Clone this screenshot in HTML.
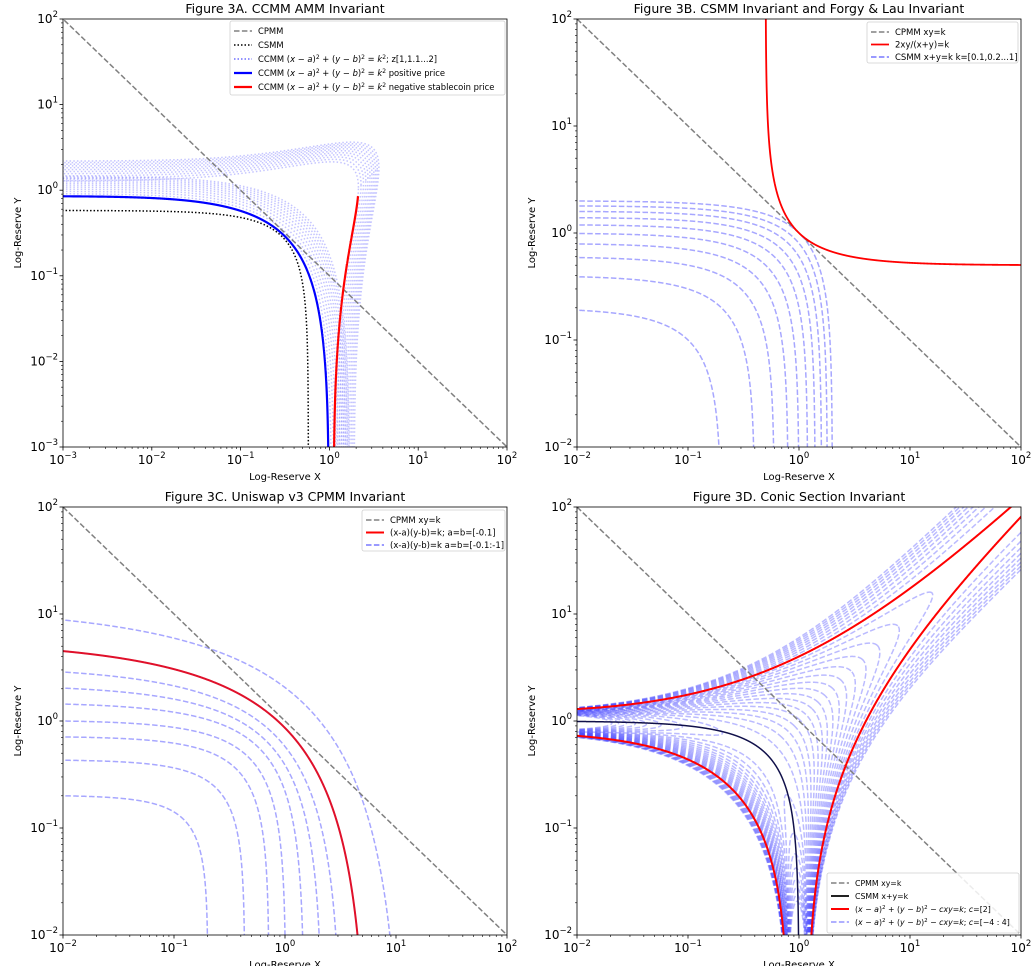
<!DOCTYPE html>
<html><head><meta charset="utf-8">
<style>
html,body{margin:0;padding:0;background:#fff;}
svg{display:block;font-family:"DejaVu Sans","Liberation Sans",sans-serif;}
</style></head>
<body>
<svg id="fig" width="1032" height="966" viewBox="0 0 1032 966" xmlns="http://www.w3.org/2000/svg"></svg>
<script>
// ---------- data ----------
const cpmmA_k = [0.1];
const csmmA_k = [0.58];
const circleA_center = [1.05, 1.07];
const circleA_radius = [1.072];
const ccmmA_z = [1, 1.1, 1.2, 1.3, 1.4, 1.5, 1.6, 1.7, 1.8, 1.9, 2];
const ccmmA_zSpread = [0.7];
const redA_stopY = [0.85];

const cpmmB_k = [1];
const harmonicB_k = [1];
const csmmB_sums = [0.2, 0.4, 0.6, 0.8, 1.0, 1.2, 1.4, 1.6, 1.8, 2.0];

const cpmmC_k = [1];
const v3C_intercepts = [0.2, 0.43, 0.71, 1.0, 1.44, 2.03, 2.87, 4.5, 8.8];
const v3C_power = [1.35, 1.15, 1.0, 0.88, 0.72, 0.58, 0.48, 0.38, 0.33];
const v3C_red = [4.5];
const v3C_redPower = [0.38];

const cpmmD_k = [1];
const csmmD_k = [1];
const conicD_ab = [1];
const conicD_k = [1.04];
const conicD_c = [-4,-3.75,-3.5,-3.25,-3,-2.75,-2.5,-2.25,-2,-1.75,-1.5,-1.25,-1,-0.75,-0.5,-0.25,0,0.25,0.5,0.75,1,1.25,1.5,1.75,2,2.25,2.5,2.75,3,3.25,3.5,3.75,4];
const conicD_red = [2];

const xTicksA = [-3,-2,-1,0,1,2];
const xTicksB = [-2,-1,0,1,2];

// ---------- helpers ----------
const NS = "http://www.w3.org/2000/svg";
const svg = document.getElementById('fig');
function mk(tag, attrs, parent, name, inter) {
  const e = document.createElementNS(NS, tag);
  for (const k in attrs) e.setAttribute(k, attrs[k]);
  
  
  (parent || svg).appendChild(e);
  return e;
}
function sup(s){return String(s).replace('-', '\u2212');}

const panels = {
  A:{X0:63,X1:507,Y0:19,Y1:447,xmin:-3,xmax:2,ymin:-3,ymax:2,xt:xTicksA,yt:xTicksA,title:"Figure 3A. CCMM AMM Invariant"},
  B:{X0:577,X1:1021,Y0:19,Y1:447,xmin:-2,xmax:2,ymin:-2,ymax:2,xt:xTicksB,yt:xTicksB,title:"Figure 3B. CSMM Invariant and Forgy & Lau Invariant"},
  C:{X0:63,X1:507,Y0:507,Y1:935,xmin:-2,xmax:2,ymin:-2,ymax:2,xt:xTicksB,yt:xTicksB,title:"Figure 3C. Uniswap v3 CPMM Invariant"},
  D:{X0:577,X1:1021,Y0:507,Y1:935,xmin:-2,xmax:2,ymin:-2,ymax:2,xt:xTicksB,yt:xTicksB,title:"Figure 3D. Conic Section Invariant"}
};
function px(P, x){return P.X0 + (Math.log10(x)-P.xmin)/(P.xmax-P.xmin)*(P.X1-P.X0);}
function py(P, y){return P.Y1 - (Math.log10(y)-P.ymin)/(P.ymax-P.ymin)*(P.Y1-P.Y0);}

function setupPanel(key){
  const P = panels[key];
  const g = mk('g', {}, svg, 'panel-'+key.toLowerCase(), false);
  const clip = mk('clipPath', {id:'clip'+key}, g, 'clip-'+key.toLowerCase(), false);
  mk('rect', {x:P.X0, y:P.Y0, width:P.X1-P.X0, height:P.Y1-P.Y0}, clip, 'clip-rect', false);
  P.g = g;
  P.plot = mk('g', {'clip-path':'url(#clip'+key+')'}, g, 'plot-area-'+key.toLowerCase(), false);
  const t = mk('text', {x:(P.X0+P.X1)/2, y:P.Y0-6, 'text-anchor':'middle','font-size':12.5,fill:'#000'}, g, 'chart-title-'+key.toLowerCase(), false);
  t.textContent = P.title;
  const tg = mk('g', {stroke:'#000','stroke-width':0.8}, g, 'ticks-'+key.toLowerCase(), false);
  for (let d = P.xmin; d <= P.xmax; d++) {
    const x = P.X0 + (d-P.xmin)/(P.xmax-P.xmin)*(P.X1-P.X0);
    mk('line', {x1:x,x2:x,y1:P.Y1,y2:P.Y1+3.5}, tg, 'x-major-tick', false);
    const y = P.Y1 - (d-P.ymin)/(P.ymax-P.ymin)*(P.Y1-P.Y0);
    mk('line', {x1:P.X0,x2:P.X0-3.5,y1:y,y2:y}, tg, 'y-major-tick', false);
    if (d < P.xmax) for (let m=2;m<10;m++){
      const xm = P.X0 + (d+Math.log10(m)-P.xmin)/(P.xmax-P.xmin)*(P.X1-P.X0);
      mk('line', {x1:xm,x2:xm,y1:P.Y1,y2:P.Y1+2,'stroke-width':0.6}, tg, 'x-minor-tick', false);
      const ym = P.Y1 - (d+Math.log10(m)-P.ymin)/(P.ymax-P.ymin)*(P.Y1-P.Y0);
      mk('line', {x1:P.X0,x2:P.X0-2,y1:ym,y2:ym,'stroke-width':0.6}, tg, 'y-minor-tick', false);
    }
  }
  P.xt.forEach(d=>{
    const x = P.X0 + (d-P.xmin)/(P.xmax-P.xmin)*(P.X1-P.X0);
    const tx = mk('text', {x:x, y:P.Y1+17, 'text-anchor':'middle','font-size':12}, g, 'x-tick-label', false);
    tx.innerHTML = '10<tspan dy="-6" font-size="8.5">'+sup(d)+'</tspan>';
  });
  P.yt.forEach(d=>{
    const y = P.Y1 - (d-P.ymin)/(P.ymax-P.ymin)*(P.Y1-P.Y0);
    const ty = mk('text', {x:P.X0-5, y:y+4, 'text-anchor':'end','font-size':12}, g, 'y-tick-label', false);
    ty.innerHTML = '10<tspan dy="-6" font-size="8.5">'+sup(d)+'</tspan>';
  });
  const xl = mk('text', {x:(P.X0+P.X1)/2, y:P.Y1+33, 'text-anchor':'middle','font-size':10}, g, 'x-axis-title', false);
  xl.textContent = 'Log-Reserve X';
  const yc = (P.Y0+P.Y1)/2, xx = P.X0-42;
  const yl = mk('text', {x:xx, y:yc, 'text-anchor':'middle','font-size':10, transform:'rotate(-90 '+xx+' '+yc+')'}, g, 'y-axis-title', false);
  yl.textContent = 'Log-Reserve Y';
  return P;
}

function drawParam(P, fn, t0, t1, n, style, name){
  const lx0=P.xmin-0.05, lx1=P.xmax+0.05, ly0=P.ymin-0.05, ly1=P.ymax+0.05;
  function g(t){
    const p = fn(t); if(!p) return -1;
    const [x,y]=p; if(!(x>0)||!(y>0)||!isFinite(x)||!isFinite(y)) return -1;
    const lx=Math.log10(x), ly=Math.log10(y);
    return Math.min(lx-lx0, lx1-lx, ly-ly0, ly1-ly);
  }
  function bis(ta, tb){
    for(let i=0;i<40;i++){const tm=(ta+tb)/2; if(g(tm)>=0) ta=tm; else tb=tm;}
    return ta;
  }
  const segs=[]; let cur=null; let prevT=t0, prevV=false;
  for(let i=0;i<=n;i++){
    const t = t0+(t1-t0)*i/n;
    const v = g(t)>=0;
    if(v){
      if(!prevV){cur=[]; segs.push(cur); if(i>0) cur.push(fn(bis(t,prevT)));}
      cur.push(fn(t));
    } else if(prevV){
      cur.push(fn(bis(prevT,t))); cur=null;
    }
    prevV=v; prevT=t;
  }
  let d='';
  segs.forEach(s=>{ if(s.length<2) return; d+='M'+s.map(p=>px(P,p[0]).toFixed(2)+','+py(P,p[1]).toFixed(2)).join('L'); });
  const a = Object.assign({d:d, fill:'none'}, style);
  return mk('path', a, P.plot, name, false);
}
function frame(P){
  mk('rect', {x:P.X0,y:P.Y0,width:P.X1-P.X0,height:P.Y1-P.Y0,fill:'none',stroke:'#000','stroke-width':0.8}, P.g, 'axes-frame', false);
}
const gray = {stroke:'#808080','stroke-width':1.5,'stroke-dasharray':'5.5,2.4'};
const blueDash = {stroke:'rgb(60,60,255)','stroke-opacity':0.45,'stroke-width':1.5,'stroke-dasharray':'5.5,2.4'};

// ---------- Panel A ----------
(function(){
  const P = setupPanel('A');
  const [a0,b0] = circleA_center, r0 = circleA_radius[0];
  ccmmA_z.forEach(z=>{
    const f = 1 + ccmmA_zSpread[0]*(z-1);
    const a=a0*f,b=b0*f,r=r0*f;
    drawParam(P, t=>[a+r*Math.cos(t), b+r*Math.sin(t)], 0, 2*Math.PI, 3000,
      {stroke:'rgb(90,90,255)','stroke-opacity':0.35,'stroke-width':1.5,'stroke-dasharray':'1.5,2.2'}, 'ccmm-dotted-curve');
  });
  drawParam(P, t=>{const x=Math.pow(10,t); return [x, cpmmA_k[0]/x];}, -3.2, 2.2, 400, gray, 'cpmm-line');
  drawParam(P, t=>{const x=Math.pow(10,t); return [x, csmmA_k[0]-x];}, -3.2, 0.5, 3000,
    {stroke:'#000','stroke-width':1.5,'stroke-dasharray':'1.5,2'}, 'csmm-line');
  drawParam(P, t=>[a0+r0*Math.cos(t), b0+r0*Math.sin(t)], Math.PI, 1.5*Math.PI, 3000,
    {stroke:'#0000ff','stroke-width':2.2}, 'ccmm-positive-price');
  const tEnd = 2*Math.PI + Math.asin((redA_stopY[0]-b0)/r0);
  drawParam(P, t=>[a0+r0*Math.cos(t), b0+r0*Math.sin(t)], 1.5*Math.PI, tEnd, 3000,
    {stroke:'#ff0000','stroke-width':2.2}, 'ccmm-negative-price');
  frame(P);
})();

// ---------- Panel B ----------
(function(){
  const P = setupPanel('B');
  csmmB_sums.forEach(s=>{
    drawParam(P, t=>{const x=Math.pow(10,t); return [x, s-x];}, -2.2, 0.5, 3000, blueDash, 'csmm-dashed-line');
  });
  drawParam(P, t=>{const x=Math.pow(10,t); return [x, cpmmB_k[0]/x];}, -2.2, 2.2, 400, gray, 'cpmm-line');
  const k=harmonicB_k[0];
  drawParam(P, t=>{const x=Math.pow(10,t); return [x, k*x/(2*x-k)];}, -2.2, 2.2, 4000,
    {stroke:'#ff0000','stroke-width':1.8}, 'harmonic-mean-curve');
  frame(P);
})();

// ---------- Panel C ----------
(function(){
  const P = setupPanel('C');
  const edge = 0.01;
  function scaleFor(L, p){
    let lo=L, hi=L*100;
    for(let i=0;i<80;i++){
      const s=(lo+hi)/2;
      const v = s*Math.pow(1-Math.pow(edge/s,p),1/p);
      if(v<L) lo=s; else hi=s;
    }
    return (lo+hi)/2;
  }
  const curve = (L,p) => { const s=scaleFor(L,p);
    return t=>{const x=Math.pow(10,t); const q=1-Math.pow(x/s,p); return q>0?[x, s*Math.pow(q,1/p)]:null;}; };
  v3C_intercepts.forEach((L,i)=>{ drawParam(P, curve(L, v3C_power[i]), -2.2, 2.2, 3000, blueDash, 'v3-dashed-curve'); });
  drawParam(P, t=>{const x=Math.pow(10,t); return [x, cpmmC_k[0]/x];}, -2.2, 2.2, 400, gray, 'cpmm-line');
  drawParam(P, curve(v3C_red[0], v3C_redPower[0]), -2.2, 2.2, 3000, {stroke:'#e0102a','stroke-width':2}, 'v3-red-curve');
  frame(P);
})();

// ---------- Panel D ----------
function conicParts(c){
  const a=conicD_ab[0], k=conicD_k[0], s2=Math.SQRT2;
  const A=1-c/2, B=1+c/2;
  const xy=(u,v)=>[(u-v)/s2,(u+v)/s2];
  const parts=[];
  if(Math.abs(A)<1e-9){
    parts.push({fn:s=>{const v=Math.sinh(s); return xy((B*v*v+2*a*a-k)/(2*s2*a), v);}, t0:-7, t1:7});
    return parts;
  }
  const u0=s2*a/A, R=2*a*a/A-2*a*a+k;
  if(Math.abs(B)<1e-9){
    if(R/A>0){const d=Math.sqrt(R/A);
      [1,-1].forEach(sg=>parts.push({fn:s=>xy(u0+sg*d, Math.sinh(s)), t0:-7, t1:7}));}
    return parts;
  }
  const p=R/A, q=R/B;
  if(p>0&&q>0){
    parts.push({fn:t=>xy(u0+Math.sqrt(p)*Math.cos(t), Math.sqrt(q)*Math.sin(t)), t0:0, t1:2*Math.PI});
  } else if(p>0){
    [1,-1].forEach(sg=>parts.push({fn:s=>xy(u0+sg*Math.sqrt(p)*Math.cosh(s), Math.sqrt(-q)*Math.sinh(s)), t0:-10, t1:10}));
  } else if(q>0){
    [1,-1].forEach(sg=>parts.push({fn:s=>xy(u0+Math.sqrt(-p)*Math.sinh(s), sg*Math.sqrt(q)*Math.cosh(s)), t0:-10, t1:10}));
  }
  return parts;
}
(function(){
  const P = setupPanel('D');
  conicD_c.forEach(c=>{
    conicParts(c).forEach(pt=>drawParam(P, pt.fn, pt.t0, pt.t1, 3000,
      {stroke:'rgb(60,60,255)','stroke-opacity':0.35,'stroke-width':1.5,'stroke-dasharray':'5.5,2.4'}, 'conic-dashed-curve'));
  });
  drawParam(P, t=>{const x=Math.pow(10,t); return [x, cpmmD_k[0]/x];}, -2.2, 2.2, 400, gray, 'cpmm-line');
  drawParam(P, t=>{const x=Math.pow(10,t); return [x, csmmD_k[0]-x];}, -2.2, 0.3, 3000,
    {stroke:'#10104a','stroke-width':1.5}, 'csmm-line');
  conicD_red.forEach(c=>{
    conicParts(c).forEach(pt=>drawParam(P, pt.fn, pt.t0, pt.t1, 4000,
      {stroke:'#ff0000','stroke-width':2}, 'conic-red-curve'));
  });
  frame(P);
})();

// ---------- legends ----------
function legend(x,y,w,h,rows,name,fs){
  const g = mk('g', {}, svg, name, false);
  mk('rect', {x:x,y:y,width:w,height:h,rx:2,fill:'#fff','fill-opacity':0.85,stroke:'#d0d0d0','stroke-width':0.8}, g, 'legend-box', false);
  rows.forEach((r,i)=>{
    const yy = y + 10 + i*r.dy;
    mk('line', Object.assign({x1:x+4,x2:x+22,y1:yy,y2:yy}, r.style), g, 'legend-line', false);
    const t = mk('text', {x:x+28, y:yy+3, 'font-size':fs, fill:'#000'}, g, 'legend-entry', false);
    t.innerHTML = r.html;
  });
}
const eqA = 'CCMM (<tspan font-style="italic">x</tspan> − <tspan font-style="italic">a</tspan>)<tspan dy="-3" font-size="6">2</tspan><tspan dy="3"> + (</tspan><tspan font-style="italic">y</tspan> − <tspan font-style="italic">b</tspan>)<tspan dy="-3" font-size="6">2</tspan><tspan dy="3"> = </tspan><tspan font-style="italic">k</tspan><tspan dy="-3" font-size="6">2</tspan><tspan dy="3">';
legend(230,21,275,74,[
  {dy:14, style:gray, html:'CPMM'},
  {dy:14, style:{stroke:'#000','stroke-width':1.5,'stroke-dasharray':'1.5,2'}, html:'CSMM'},
  {dy:14, style:{stroke:'rgb(110,110,255)','stroke-width':1.5,'stroke-dasharray':'1.5,2'}, html:eqA+'; z[1,1.1...2]</tspan>'},
  {dy:14, style:{stroke:'#0000ff','stroke-width':2.2}, html:eqA+' positive price</tspan>'},
  {dy:14, style:{stroke:'#ff0000','stroke-width':2.2}, html:eqA+' negative stablecoin price</tspan>'}
],'legend-a',8.4);
legend(867,22,151,41,[
  {dy:12.5, style:gray, html:'CPMM xy=k'},
  {dy:12.5, style:{stroke:'#ff0000','stroke-width':1.8}, html:'2xy/(x+y)=k'},
  {dy:12.5, style:{stroke:'rgb(120,120,255)','stroke-width':1.5,'stroke-dasharray':'5.5,2.4'}, html:'CSMM x+y=k k=[0.1,0.2...1]'}
],'legend-b',8.5);
legend(362,510,143,41,[
  {dy:12.5, style:gray, html:'CPMM xy=k'},
  {dy:12.5, style:{stroke:'#ff0000','stroke-width':2}, html:'(x-a)(y-b)=k; a=b=[-0.1]'},
  {dy:12.5, style:{stroke:'rgb(120,120,255)','stroke-width':1.5,'stroke-dasharray':'5.5,2.4'}, html:'(x-a)(y-b)=k a=b=[-0.1:-1]'}
],'legend-c',8.5);
const eqD = '(<tspan font-style="italic">x</tspan> − <tspan font-style="italic">a</tspan>)<tspan dy="-3" font-size="5.5">2</tspan><tspan dy="3"> + (</tspan><tspan font-style="italic">y</tspan> − <tspan font-style="italic">b</tspan>)<tspan dy="-3" font-size="5.5">2</tspan><tspan dy="3"> − </tspan><tspan font-style="italic">cxy</tspan>=<tspan font-style="italic">k</tspan>; <tspan font-style="italic">c</tspan>=';
legend(827,873,192,60,[
  {dy:13, style:gray, html:'CPMM xy=k'},
  {dy:13, style:{stroke:'#222','stroke-width':2}, html:'CSMM x+y=k'},
  {dy:13, style:{stroke:'#ff0000','stroke-width':2}, html:eqD+'[2]'},
  {dy:13, style:{stroke:'rgb(150,150,255)','stroke-width':1.5,'stroke-dasharray':'5.5,2.4'}, html:eqD+'[−4 : 4]'}
],'legend-d',7.8);
</script>
</body></html>
